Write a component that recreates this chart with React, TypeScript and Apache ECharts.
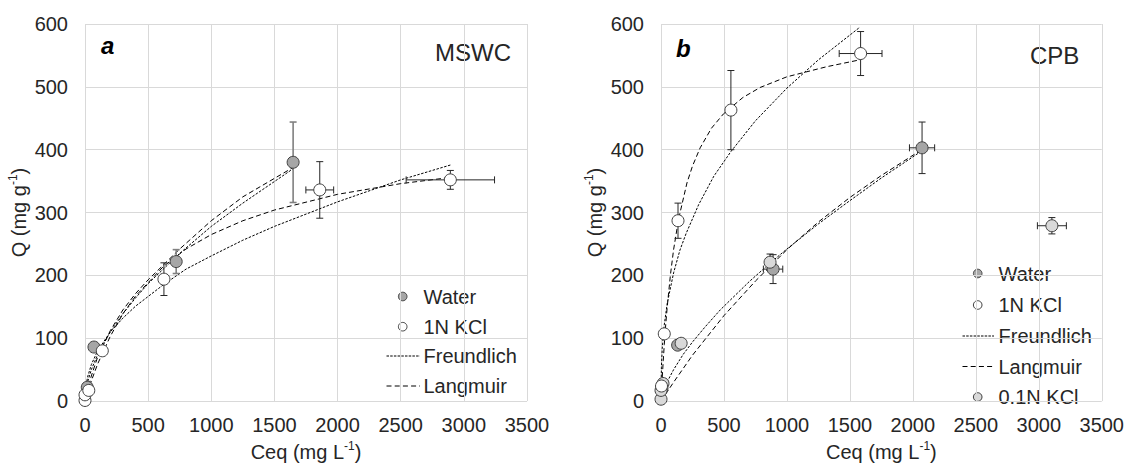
import React, { useEffect, useRef } from "react";
import * as echarts from "echarts";

const FONT = '"Liberation Sans", Arial, Helvetica, sans-serif';
const TXT = "#262626";

// axis ranges
const xMin = 0, xMax = 3500, xStep = 500;
const yMin = 0, yMax = 600, yStep = 100;

// ---- Panel a (MSWC): [Ceq, Q, xErr, yErr]
const waterA = [[18, 22, 0, 0], [71, 86, 0, 0], [722, 222, 0, 19], [1648, 380, 0, 64]];
const kclA = [[0, 1, 0, 0], [0, 10, 0, 0], [30, 17, 0, 0], [137, 80, 0, 5], [625, 194, 0, 26], [1859, 336, 110, 45], [2893, 352, 350, 15]];
// fitted curves panel a
const waterFreundA = [[0, 0], [5, 13], [20, 30], [50, 50], [100, 74], [200, 110], [300, 139], [400, 164], [500, 187], [750, 235], [1000, 278], [1250, 315], [1650, 370]];
const waterLangA = [[0, 0], [10, 10], [50, 40], [100, 70], [200, 112], [300, 145], [400, 171], [500, 193], [750, 242], [1000, 287], [1250, 325], [1650, 372]];
const kclFreundA = [[0, 0], [5, 20], [20, 38], [50, 58], [100, 80], [200, 110], [300, 132], [400, 151], [620, 185], [800, 210], [1000, 231], [1250, 256], [1500, 278], [2000, 317], [2500, 352], [2900, 376]];
const kclLangA = [[0, 0], [20, 13], [50, 32], [100, 59], [200, 103], [300, 139], [400, 167], [620, 214], [800, 242], [1000, 265], [1250, 287], [1500, 304], [2000, 329], [2500, 346], [2900, 356]];

// ---- Panel b (CPB)
const waterB = [[8, 20, 0, 0], [132, 89, 20, 0], [890, 210, 77, 23], [2073, 403, 100, 41]];
const kcl01B = [[0, 3, 0, 0], [0, 17, 0, 0], [16, 28, 0, 0], [160, 92, 0, 0], [866, 221, 0, 13], [3104, 279, 115, 13]];
const kclB = [[4, 24, 0, 0], [26, 107, 0, 0], [135, 287, 0, 28], [555, 463, 0, 63], [1585, 553, 170, 35]];
const waterFreundB = [[0, 0], [10, 10], [50, 31], [100, 50], [175, 74], [250, 94], [350, 118], [470, 145], [700, 190], [880, 222], [1000, 242], [1250, 282], [1500, 319], [1750, 355], [2070, 398]];
const waterLangB = [[0, 0], [50, 15], [100, 30], [250, 73], [500, 136], [750, 191], [1000, 241], [1250, 285], [1500, 324], [1750, 359], [2070, 400]];
const kclFreundB = [[0, 0], [3, 53], [10, 84], [25, 120], [50, 156], [100, 204], [150, 240], [200, 267], [300, 313], [420, 358], [555, 397], [750, 446], [1000, 498], [1250, 543], [1580, 595]];
const kclLangB = [[0, 0], [5, 20], [10, 38], [18, 65], [26, 90], [38, 123], [50, 151], [75, 201], [100, 241], [140, 290], [206, 347], [250, 374], [311, 403], [400, 434], [496, 457], [650, 483], [787, 499], [1000, 516], [1315, 532], [1580, 543]];

const legendA = ["Water", "1N KCl", "Freundlich", "Langmuir"];
const legendB = ["Water", "1N KCl", "Freundlich", "Langmuir", "0.1N KCl"];

const FILL_WATER = "#a6a6a6";
const FILL_KCL = "#ffffff";
const FILL_KCL01 = "#d9d9d9";
const EDGE = "#404040";
const DASH_F = [2.5, 1.5];
const DASH_L = [5, 3];

function errSeries(data: number[][], gi: number, color: string, width: number) {
  return {
    type: "custom",
    coordinateSystem: "cartesian2d",
    xAxisIndex: gi,
    yAxisIndex: gi,
    z: 3,
    silent: true,
    clip: false,
    encode: { x: 0, y: 1 },
    data,
    renderItem: (params: any, api: any) => {
      const x = api.value(0), y = api.value(1), ex = api.value(2), ey = api.value(3);
      const ch: any[] = [];
      const st = { stroke: color, lineWidth: width };
      const cap = 3.5;
      if (ey > 0) {
        const t = api.coord([x, y + ey]);
        const b = api.coord([x, y - ey]);
        ch.push({ type: "line", shape: { x1: t[0], y1: t[1], x2: b[0], y2: b[1] }, style: st });
        ch.push({ type: "line", shape: { x1: t[0] - cap, y1: t[1], x2: t[0] + cap, y2: t[1] }, style: st });
        ch.push({ type: "line", shape: { x1: b[0] - cap, y1: b[1], x2: b[0] + cap, y2: b[1] }, style: st });
      }
      if (ex > 0) {
        const l = api.coord([x - ex, y]);
        const r = api.coord([x + ex, y]);
        ch.push({ type: "line", shape: { x1: l[0], y1: l[1], x2: r[0], y2: r[1] }, style: st });
        ch.push({ type: "line", shape: { x1: l[0], y1: l[1] - cap, x2: l[0], y2: l[1] + cap }, style: st });
        ch.push({ type: "line", shape: { x1: r[0], y1: r[1] - cap, x2: r[0], y2: r[1] + cap }, style: st });
      }
      return { type: "group", children: ch };
    },
  };
}

function scatter(name: string, data: number[][], gi: number, fill: string) {
  return {
    name,
    type: "scatter",
    xAxisIndex: gi,
    yAxisIndex: gi,
    z: 4,
    symbol: "circle",
    symbolSize: 12,
    data: data.map((d) => [d[0], d[1]]),
    itemStyle: { color: fill, borderColor: EDGE, borderWidth: 1, opacity: 1 },
  };
}

function curve(name: string, data: number[][], gi: number, dash: number[]) {
  return {
    name,
    type: "line",
    xAxisIndex: gi,
    yAxisIndex: gi,
    z: 2,
    showSymbol: false,
    smooth: false,
    data,
    lineStyle: { color: "#000", width: 1, type: dash },
  };
}

const nameStyle = {
  fontSize: 20,
  color: TXT,
  fontFamily: FONT,
  lineHeight: 24,
  rich: { sup: { fontSize: 12, fontFamily: FONT, color: TXT, verticalAlign: "top", lineHeight: 12 } },
};

function xAxis(gi: number) {
  return {
    gridIndex: gi,
    type: "value",
    min: xMin,
    max: xMax,
    interval: xStep,
    axisLine: { show: false },
    axisTick: { show: false },
    axisLabel: { fontSize: 20, color: TXT, fontFamily: FONT, margin: 14, formatter: (v: number) => String(v) },
    splitLine: { show: true, lineStyle: { color: "#d9d9d9", width: 1 } },
    name: "Ceq (mg L{sup|-1})",
    nameLocation: "middle",
    nameGap: 36,
    nameTextStyle: nameStyle,
  };
}

function yAxis(gi: number) {
  return {
    gridIndex: gi,
    type: "value",
    min: yMin,
    max: yMax,
    interval: yStep,
    axisLine: { show: false },
    axisTick: { show: false },
    axisLabel: { fontSize: 20, color: TXT, fontFamily: FONT, margin: 17, formatter: (v: number) => String(v) },
    splitLine: { show: true, lineStyle: { color: "#d9d9d9", width: 1 } },
    name: "Q (mg g{sup|-1})",
    nameLocation: "middle",
    nameGap: 52,
    nameTextStyle: nameStyle,
  };
}

function legendGraphics(labels: string[], kinds: string[], cx: number, lineX1: number, lineX2: number, textX: number, ys: number[]) {
  const els: any[] = [];
  labels.forEach((lab, i) => {
    const k = kinds[i];
    const y = ys[i];
    if (k === "F" || k === "L") {
      els.push({
        type: "line",
        shape: { x1: lineX1, y1: y, x2: lineX2, y2: y },
        style: { stroke: "#000", lineWidth: 1, lineDash: k === "F" ? [2.5, 1.2] : [5, 3.2] },
      });
    } else {
      els.push({
        type: "circle",
        shape: { cx, cy: y, r: 4.3 },
        style: { fill: k, stroke: EDGE, lineWidth: 1 },
      });
    }
    els.push({
      type: "text",
      x: textX,
      y,
      style: { text: lab, fontSize: 20, fontFamily: FONT, fill: TXT, align: "left", verticalAlign: "middle" },
    });
  });
  return els;
}

export default function App() {
  const ref = useRef<HTMLDivElement>(null);
  useEffect(() => {
    document.body.style.margin = "0";
    if (!ref.current) return;
    const chart = echarts.init(ref.current, null, { renderer: "svg" });
    const graphics: any[] = [
      { type: "text", x: 101, y: 45, style: { text: "a", fontSize: 24, fontWeight: "bold", fontStyle: "italic", fontFamily: FONT, fill: "#000", verticalAlign: "middle" } },
      { type: "text", x: 435, y: 52.5, style: { text: "MSWC", fontSize: 24, fontFamily: FONT, fill: TXT, verticalAlign: "middle" } },
      { type: "text", x: 676, y: 48, style: { text: "b", fontSize: 24, fontWeight: "bold", fontStyle: "italic", fontFamily: FONT, fill: "#000", verticalAlign: "middle" } },
      { type: "text", x: 1030, y: 55.5, style: { text: "CPB", fontSize: 24, fontFamily: FONT, fill: TXT, verticalAlign: "middle" } },
      ...legendGraphics(legendA, [FILL_WATER, FILL_KCL, "F", "L"], 402.7, 386.5, 420, 423.5, [296.5, 326.7, 356, 386]),
      ...legendGraphics(legendB, [FILL_WATER, FILL_KCL, "F", "L", FILL_KCL01], 977.7, 962.5, 994, 998.5, [273.5, 305, 336, 366.5, 397]),
    ];
    chart.setOption({
      animation: false,
      backgroundColor: "#ffffff",
      textStyle: { fontFamily: FONT },
      grid: [
        { left: 85, top: 24, width: 442, height: 383 },
        { left: 661, top: 24, width: 441, height: 383 },
      ],
      xAxis: [xAxis(0), xAxis(1)],
      yAxis: [yAxis(0), yAxis(1)],
      graphic: graphics,
      series: [
        curve("Freundlich", waterFreundA, 0, DASH_F),
        curve("Langmuir", waterLangA, 0, DASH_L),
        curve("Freundlich", kclFreundA, 0, DASH_F),
        curve("Langmuir", kclLangA, 0, DASH_L),
        errSeries(waterA, 0, "#808080", 1.6),
        errSeries(kclA, 0, "#262626", 1),
        scatter("Water", waterA, 0, FILL_WATER),
        scatter("1N KCl", kclA, 0, FILL_KCL),

        curve("Freundlich", waterFreundB, 1, DASH_F),
        curve("Langmuir", waterLangB, 1, DASH_L),
        curve("Freundlich", kclFreundB, 1, DASH_F),
        curve("Langmuir", kclLangB, 1, DASH_L),
        errSeries(waterB, 1, "#262626", 1),
        errSeries(kcl01B, 1, "#262626", 1),
        errSeries(kclB, 1, "#262626", 1),
        scatter("Water", waterB, 1, FILL_WATER),
        scatter("0.1N KCl", kcl01B, 1, FILL_KCL01),
        scatter("1N KCl", kclB, 1, FILL_KCL),
      ],
    });
    return () => chart.dispose();
  }, []);
  return <div ref={ref} style={{ width: 1127, height: 469 }} />;
}
